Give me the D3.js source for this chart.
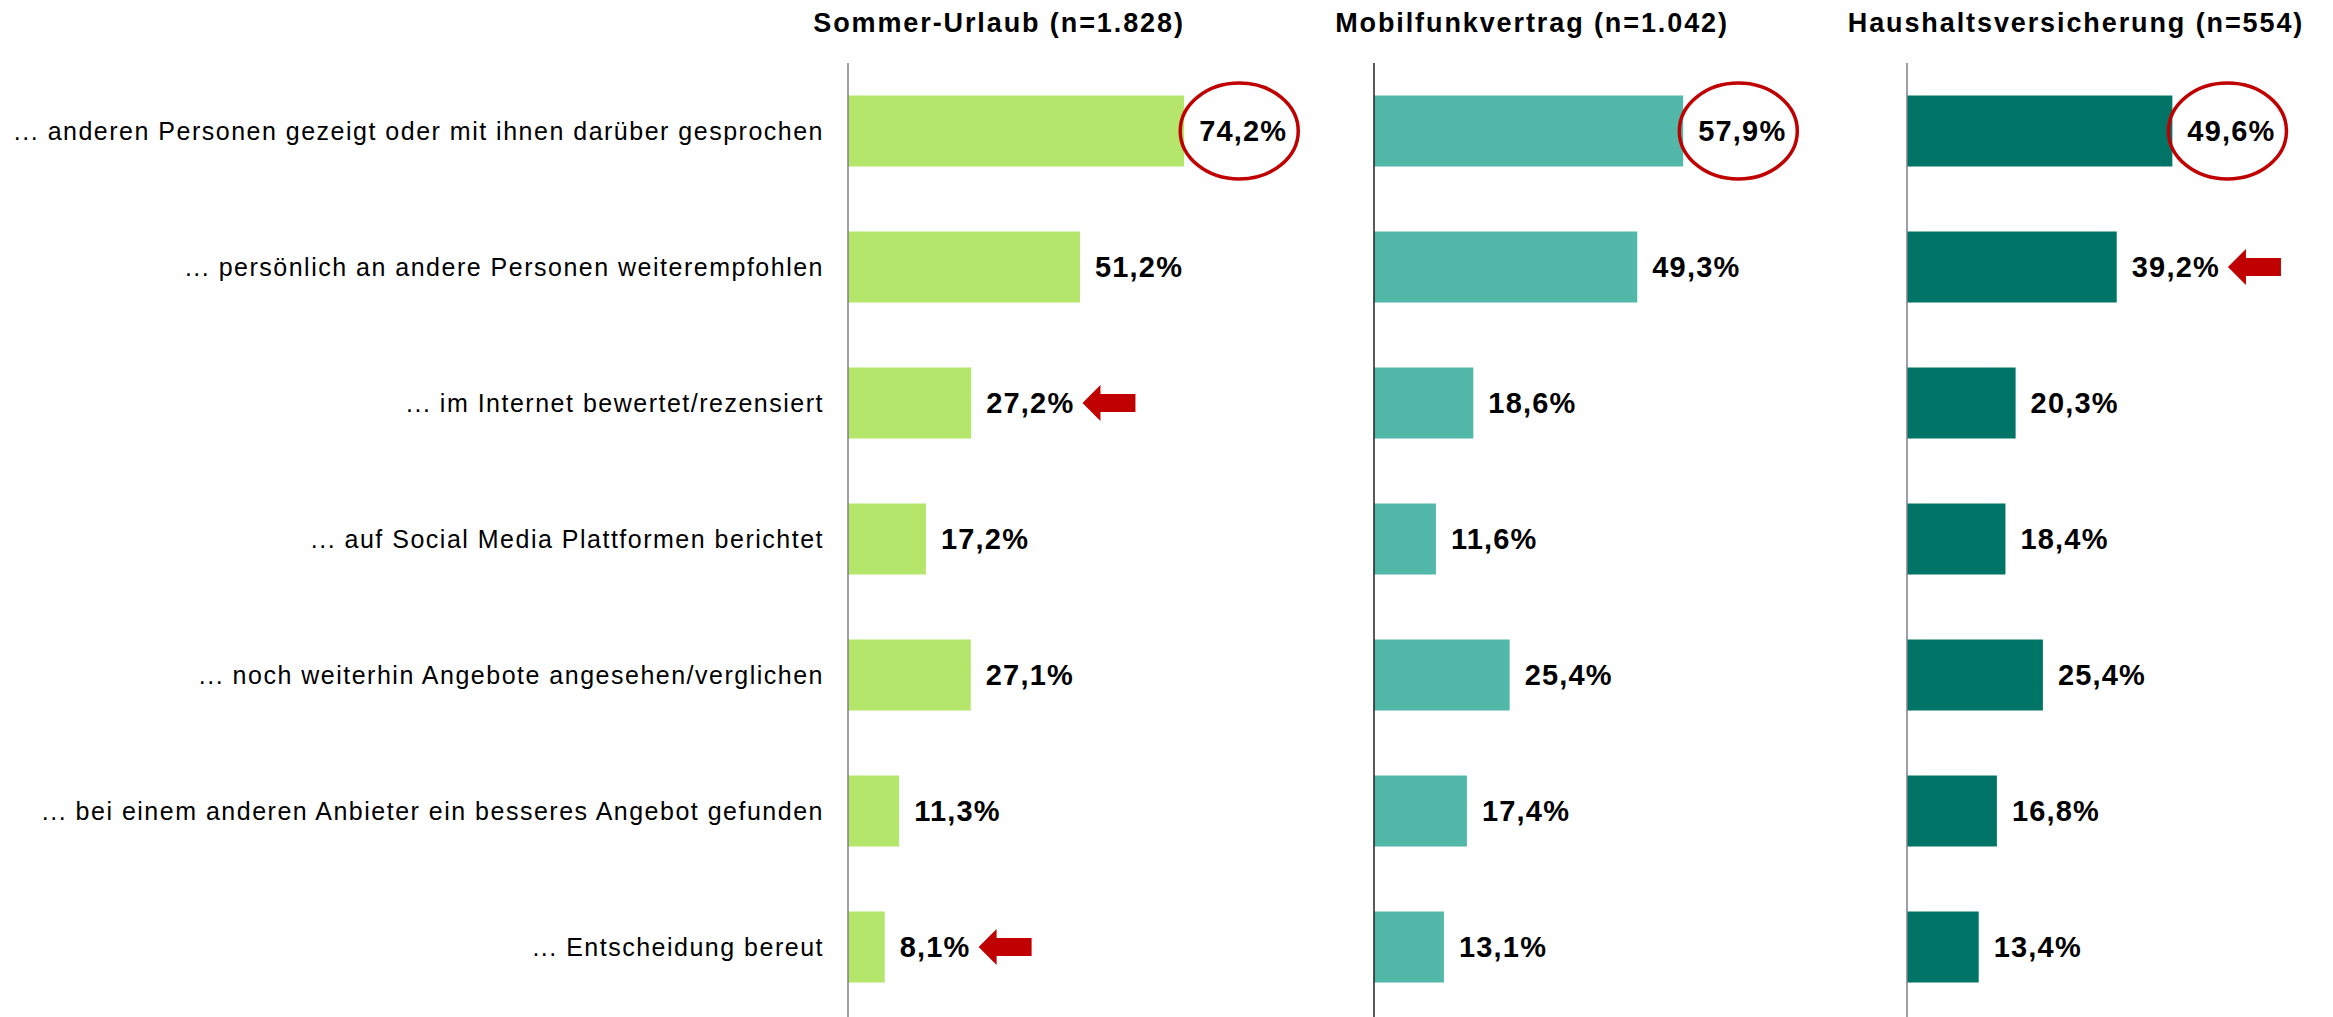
<!DOCTYPE html>
<html>
<head>
<meta charset="utf-8">
<script src="https://cdn.jsdelivr.net/npm/d3@7"></script>
<style>
  body { margin: 0; background: #fff; }
  text { font-family: "Liberation Sans", Arial, sans-serif; fill: #000; }
</style>
</head>
<body>
<svg id="chart"></svg>
<script>
// chart data
const categories = [
  '... anderen Personen gezeigt oder mit ihnen darüber gesprochen',
  '... persönlich an andere Personen weiterempfohlen',
  '... im Internet bewertet/rezensiert',
  '... auf Social Media Plattformen berichtet',
  '... noch weiterhin Angebote angesehen/verglichen',
  '... bei einem anderen Anbieter ein besseres Angebot gefunden',
  '... Entscheidung bereut'
];
const panelTitles = ['Sommer-Urlaub (n=1.828)', 'Mobilfunkvertrag (n=1.042)', 'Haushaltsversicherung (n=554)'];
const sommerUrlaub = [74.2, 51.2, 27.2, 17.2, 27.1, 11.3, 8.1];
const mobilfunk = [57.9, 49.3, 18.6, 11.6, 25.4, 17.4, 13.1];
const haushalt = [49.6, 39.2, 20.3, 18.4, 25.4, 16.8, 13.4];
// highlighted rows per panel
const circledRows = [[0], [0], [0]];
const arrowRows = [[2, 6], [], [1]];

// layout
const w = 2333, h = 1017;
const panels = [
  { values: sommerUrlaub, x0: 848, full: 453, titleX: 999, color: '#b3e66b', axisColor: '#7f7f7f' },
  { values: mobilfunk, x0: 1374, full: 534, titleX: 1532, color: '#52b9aa', axisColor: '#222' },
  { values: haushalt, x0: 1907, full: 535, titleX: 2076, color: '#007466', axisColor: '#7f7f7f' }
];
const red = '#c00000';

const fmt = d3.formatLocale({ decimal: ',', thousands: '.', grouping: [3], currency: ['', '€'] }).format('.1f');

const svg = d3.select('#chart')
  .attr('width', w)
  .attr('height', h);

const yScale = d3.scaleBand()
  .domain(categories)
  .range([63, 1015])
  .paddingInner(0.478)
  .paddingOuter(0.239);

// category labels
svg.append('g')
  .selectAll('text')
  .data(categories)
  .enter()
  .append('text')
  .attr('x', 824)
  .attr('y', (d) => yScale(d) + yScale.bandwidth() / 2)
  .attr('dy', '0.35em')
  .attr('text-anchor', 'end')
  .style('font-size', '25px')
  .style('letter-spacing', '1.5px')
  .text((d) => d);

panels.forEach((p, pi) => {
  let xScale = d3.scaleLinear()
    .domain([0, 100])
    .range([p.x0, p.x0 + p.full]);

  let rows = p.values.map((v, i) => ({ cat: categories[i], value: v, idx: i }));
  let g = svg.append('g');

  // title
  g.append('text')
    .attr('x', p.titleX)
    .attr('y', 32)
    .attr('text-anchor', 'middle')
    .style('font-size', '27px')
    .style('font-weight', 'bold')
    .style('letter-spacing', '1.9px')
    .text(panelTitles[pi]);

  g.selectAll('rect')
    .data(rows)
    .enter()
    .append('rect')
    .attr('x', xScale(0))
    .attr('y', (d) => yScale(d.cat))
    .attr('width', (d) => xScale(d.value) - xScale(0))
    .attr('height', yScale.bandwidth())
    .attr('fill', p.color);

  // axis line
  g.append('line')
    .attr('x1', xScale(0))
    .attr('x2', xScale(0))
    .attr('y1', 63)
    .attr('y2', h)
    .attr('stroke', p.axisColor)
    .attr('stroke-width', 1.5);

  let labels = g.selectAll('text.val')
    .data(rows)
    .enter()
    .append('text')
    .attr('class', 'val')
    .attr('x', (d) => xScale(d.value) + 15)
    .attr('y', (d) => yScale(d.cat) + yScale.bandwidth() / 2)
    .attr('dy', '0.35em')
    .style('font-size', '29px')
    .style('font-weight', 'bold')
    .style('letter-spacing', '1.2px')
    .text((d) => fmt(d.value) + '%');

  labels.each(function (d) {
    let tw = this.getComputedTextLength();
    let tx = xScale(d.value) + 15;
    let cy = yScale(d.cat) + yScale.bandwidth() / 2;

    if (circledRows[pi].includes(d.idx)) {
      g.append('ellipse')
        .attr('cx', tx + tw / 2 - 4)
        .attr('cy', cy)
        .attr('rx', 59)
        .attr('ry', 48)
        .attr('fill', 'none')
        .attr('stroke', red)
        .attr('stroke-width', 3.5);
    }
    if (arrowRows[pi].includes(d.idx)) {
      let tip = tx + tw + 8;
      let pts = [
        [tip, cy], [tip + 18, cy - 18], [tip + 18, cy - 9], [tip + 53, cy - 9],
        [tip + 53, cy + 9], [tip + 18, cy + 9], [tip + 18, cy + 18]
      ];
      g.append('polygon')
        .attr('points', pts.map((q) => q.join(',')).join(' '))
        .attr('fill', red);
    }
  });
});
</script>
</body>
</html>
